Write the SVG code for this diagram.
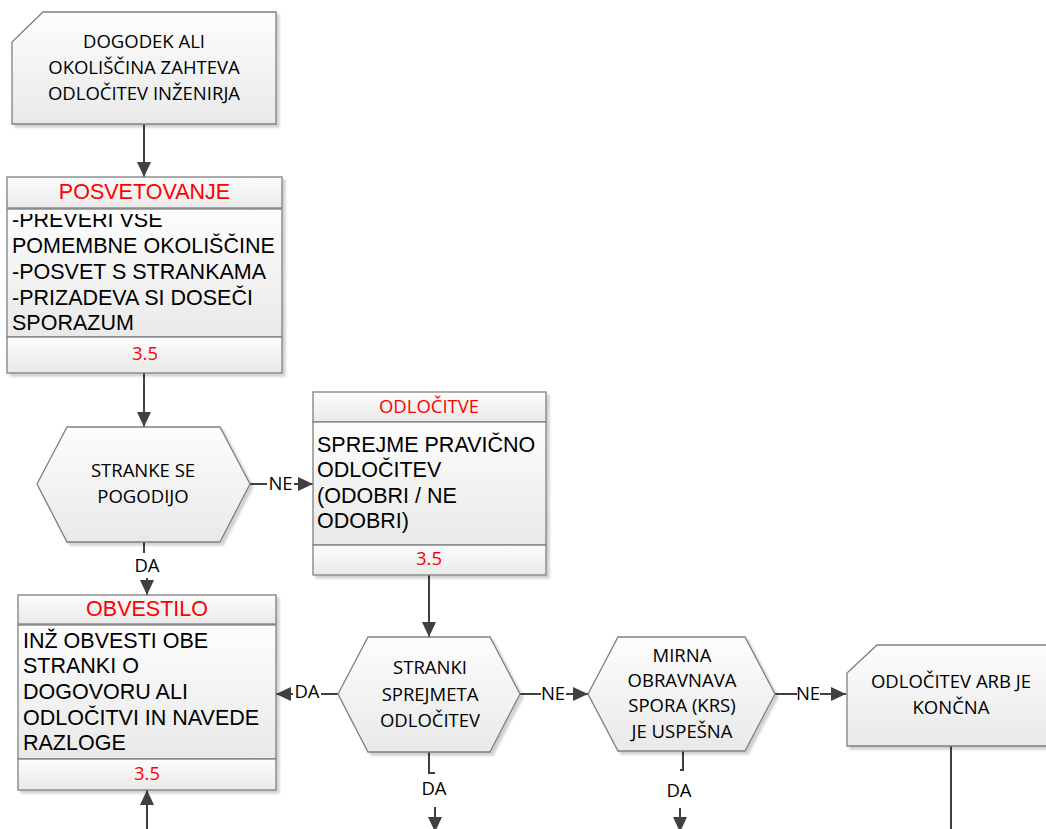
<svg xmlns="http://www.w3.org/2000/svg" width="1046" height="829" viewBox="0 0 1046 829">
  <defs>
    <linearGradient id="fillGrad" x1="0" y1="0" x2="0" y2="1">
      <stop offset="0" stop-color="#fdfdfd"/>
      <stop offset="1" stop-color="#e9e9e9"/>
    </linearGradient>
    <filter id="shadow" x="-5%" y="-5%" width="115%" height="120%">
      <feDropShadow dx="3" dy="3" stdDeviation="1.2" flood-color="#000" flood-opacity="0.18"/>
    </filter>
    <marker id="arrow" markerUnits="userSpaceOnUse" markerWidth="15" markerHeight="14" refX="15" refY="7" orient="auto">
      <path d="M0,0 L15,7 L0,14 Z" fill="#404040"/>
    </marker>
    <clipPath id="clipPosvet"><rect x="7" y="214" width="275" height="123"/></clipPath>
  </defs>
  <style>
    .shape { fill: url(#fillGrad); stroke: #7f7f7f; stroke-width: 1.3; }
    .sans { font-family: "Open Sans", "Noto Sans", sans-serif; font-size: 18.5px; fill: #000; }
    .arial { font-family: "Liberation Sans", Arial, sans-serif; font-size: 21.5px; fill: #000; }
    .red { fill: #ff0000; }
    .mid { text-anchor: middle; }
    .conn { fill: none; stroke: #404040; stroke-width: 2; }
  </style>

  <!-- connectors -->
  <g id="connectors">
    <path class="conn" d="M144 124 V177" marker-end="url(#arrow)"/>
    <path class="conn" d="M144 373 V427" marker-end="url(#arrow)"/>
    <path class="conn" d="M250 484 H267 M294 484 H313" marker-end="url(#arrow)"/>
    <path class="conn" d="M144 542 V553 M147 578 V595" marker-end="url(#arrow)"/>
    <path class="conn" d="M429 575 V637" marker-end="url(#arrow)"/>
    <path class="conn" d="M338 694 H321 M293 694 H276" marker-end="url(#arrow)"/>
    <path class="conn" d="M520 694 H541 M566 694 H588" marker-end="url(#arrow)"/>
    <path class="conn" d="M775 694 H797 M820 694 H846" marker-end="url(#arrow)"/>
    <path class="conn" d="M429 752 V773 H435 M435 807 V832" marker-end="url(#arrow)"/>
    <path class="conn" d="M683 751 V770 H680 M680 808 V832" marker-end="url(#arrow)"/>
    <path class="conn" d="M951 746 V829"/>
    <path class="conn" d="M147 829 V790" marker-end="url(#arrow)"/>
    <text class="sans mid" x="280.5" y="490">NE</text>
    <text class="sans mid" x="147" y="572">DA</text>
    <text class="sans mid" x="307" y="698">DA</text>
    <text class="sans mid" x="553" y="700">NE</text>
    <text class="sans mid" x="808" y="700">NE</text>
    <text class="sans mid" x="434" y="795">DA</text>
    <text class="sans mid" x="679" y="797">DA</text>
  </g>

  <!-- start event -->
  <g id="node-start">
    <path class="shape" filter="url(#shadow)" d="M43 12 H276 V124 H12 V42 Z"/>
    <text class="sans mid" x="144" y="48">DOGODEK ALI</text>
    <text class="sans mid" x="144" y="74">OKOLIŠČINA ZAHTEVA</text>
    <text class="sans mid" x="144" y="100">ODLOČITEV INŽENIRJA</text>
  </g>

  <!-- consultation -->
  <g id="node-posvetovanje">
    <g filter="url(#shadow)">
      <rect class="shape" x="7" y="177" width="275" height="31"/>
      <rect class="shape" x="7" y="209" width="275" height="128"/>
      <rect class="shape" x="7" y="337" width="275" height="36"/>
    </g>
    <text class="arial mid red" x="144.5" y="199">POSVETOVANJE</text>
    <g clip-path="url(#clipPosvet)">
      <text class="arial" x="12" y="227">-PREVERI VSE</text>
      <text class="arial" x="12" y="252.5">POMEMBNE OKOLIŠČINE</text>
      <text class="arial" x="12" y="278.5">-POSVET S STRANKAMA</text>
      <text class="arial" x="12" y="304.5">-PRIZADEVA SI DOSEČI</text>
      <text class="arial" x="12" y="330">SPORAZUM</text>
    </g>
    <text class="sans mid red" x="145" y="360">3.5</text>
  </g>

  <!-- decision: parties agree -->
  <g id="node-pogodijo">
    <polygon class="shape" filter="url(#shadow)" points="37,484 67,427 220,427 250,484 220,542 67,542"/>
    <text class="sans mid" x="143" y="477">STRANKE SE</text>
    <text class="sans mid" x="143" y="503">POGODIJO</text>
  </g>

  <!-- decisions -->
  <g id="node-odlocitve">
    <g filter="url(#shadow)">
      <rect class="shape" x="313" y="392" width="233" height="30"/>
      <rect class="shape" x="313" y="422" width="233" height="123"/>
      <rect class="shape" x="313" y="545" width="233" height="30"/>
    </g>
    <text class="sans mid red" x="429" y="413">ODLOČITVE</text>
    <text class="arial" x="317" y="452">SPREJME PRAVIČNO</text>
    <text class="arial" x="317" y="477">ODLOČITEV</text>
    <text class="arial" x="317" y="502.5">(ODOBRI / NE</text>
    <text class="arial" x="317" y="528">ODOBRI)</text>
    <text class="sans mid red" x="429" y="565">3.5</text>
  </g>

  <!-- notification -->
  <g id="node-obvestilo">
    <g filter="url(#shadow)">
      <rect class="shape" x="18" y="595" width="258" height="29"/>
      <rect class="shape" x="18" y="625" width="258" height="134"/>
      <rect class="shape" x="18" y="759" width="258" height="31"/>
    </g>
    <text class="arial mid red" x="147" y="616">OBVESTILO</text>
    <text class="arial" x="23" y="648">INŽ OBVESTI OBE</text>
    <text class="arial" x="23" y="673">STRANKI O</text>
    <text class="arial" x="23" y="698.5">DOGOVORU ALI</text>
    <text class="arial" x="23" y="724.5">ODLOČITVI IN NAVEDE</text>
    <text class="arial" x="23" y="750">RAZLOGE</text>
    <text class="sans mid red" x="147" y="780">3.5</text>
  </g>

  <!-- decision: parties accept -->
  <g id="node-sprejmeta">
    <polygon class="shape" filter="url(#shadow)" points="338,694 368,637 490,637 520,694 490,752 368,752"/>
    <text class="sans mid" x="430" y="674">STRANKI</text>
    <text class="sans mid" x="430" y="701">SPREJMETA</text>
    <text class="sans mid" x="430" y="727">ODLOČITEV</text>
  </g>

  <!-- decision: amicable settlement -->
  <g id="node-krs">
    <polygon class="shape" filter="url(#shadow)" points="588,694 618,637 745,637 775,694 745,751 618,751"/>
    <text class="sans mid" x="682" y="662">MIRNA</text>
    <text class="sans mid" x="682" y="687">OBRAVNAVA</text>
    <text class="sans mid" x="682" y="712">SPORA (KRS)</text>
    <text class="sans mid" x="682" y="738">JE USPEŠNA</text>
  </g>

  <!-- final arbitration -->
  <g id="node-arb">
    <path class="shape" filter="url(#shadow)" d="M877 645 H1052 V746 H847 V673 Z"/>
    <text class="sans mid" x="951" y="688">ODLOČITEV ARB JE</text>
    <text class="sans mid" x="951" y="714">KONČNA</text>
  </g>
</svg>
